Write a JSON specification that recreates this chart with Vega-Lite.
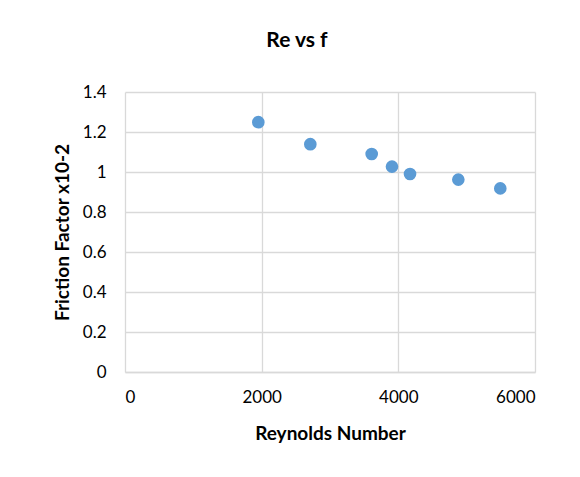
{
  "$schema": "https://vega.github.io/schema/vega-lite/v6.json",
  "width": 410,
  "height": 280,
  "autosize": "none",
  "padding": {"left": 125, "top": 92, "right": 45, "bottom": 105},
  "background": "white",
  "title": {
    "text": "Re vs f",
    "anchor": "middle",
    "dx": -33,
    "offset": 32,
    "font": "Lato",
    "fontSize": 21,
    "fontWeight": "bold",
    "color": "#000000"
  },
  "data": {
    "values": [
      {"Re": 1951, "f": 1.249},
      {"Re": 2712, "f": 1.139},
      {"Re": 3610, "f": 1.09},
      {"Re": 3907, "f": 1.027},
      {"Re": 4171, "f": 0.99},
      {"Re": 4878, "f": 0.962},
      {"Re": 5492, "f": 0.918}
    ]
  },
  "mark": {"type": "circle", "size": 160, "color": "#5b9bd5", "opacity": 1},
  "encoding": {
    "x": {
      "field": "Re",
      "type": "quantitative",
      "title": "Reynolds Number",
      "scale": {"domain": [0, 6000], "nice": false, "zero": true},
      "axis": {
        "values": [0, 2000, 4000, 6000],
        "format": "d",
        "grid": true,
        "gridColor": "#d9d9d9",
        "gridWidth": 1.3,
        "domain": true,
        "domainColor": "#d9d9d9",
        "domainWidth": 1.3,
        "ticks": false,
        "labelPadding": 17,
        "labelFont": "Lato",
        "labelFontSize": 17,
        "labelColor": "#000000",
        "titleFont": "Lato",
        "titleFontSize": 19,
        "titleFontWeight": "bold",
        "titleColor": "#000000",
        "titlePadding": 19
      }
    },
    "y": {
      "field": "f",
      "type": "quantitative",
      "title": "Friction Factor x10-2",
      "scale": {"domain": [0, 1.4], "nice": false},
      "axis": {
        "values": [0, 0.2, 0.4, 0.6, 0.8, 1, 1.2, 1.4],
        "format": "~g",
        "grid": true,
        "gridColor": "#d9d9d9",
        "gridWidth": 1.3,
        "domain": false,
        "ticks": false,
        "labelPadding": 19,
        "labelFont": "Lato",
        "labelFontSize": 17,
        "labelColor": "#000000",
        "titleFont": "Lato",
        "titleFontSize": 19,
        "titleFontWeight": "bold",
        "titleColor": "#000000",
        "titlePadding": 10
      }
    }
  },
  "config": {"view": {"stroke": null}}
}
